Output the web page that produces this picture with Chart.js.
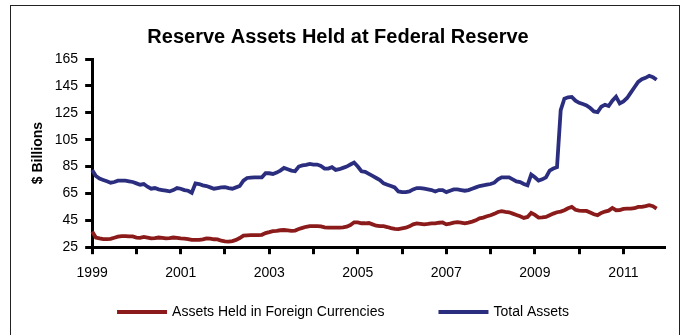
<!DOCTYPE html>
<html>
<head>
<meta charset="utf-8">
<script src="https://cdn.jsdelivr.net/npm/chart.js@4.4.1/dist/chart.umd.min.js"></script>
<style>
  html, body { margin: 0; padding: 0; background: #fff; }
  #frame { position: absolute; left: 10px; top: 5px; width: 670px; height: 340px; border: 1px solid #222; box-sizing: border-box; }
  #wrap { position: absolute; left: 0; top: 0; width: 685px; height: 335px; }
</style>
</head>
<body>
<div id="frame"></div>
<div id="wrap"><canvas id="c"></canvas></div>
<script>
// ---- data ----
const years = [1999, 2000, 2001, 2002, 2003, 2004, 2005, 2006, 2007, 2008, 2009, 2010, 2011];
const monthCodes = ['01','02','03','04','05','06','07','08','09','10','11','12'];
const categories = [];
years.forEach(y => monthCodes.forEach(m => categories.push(y + '-' + m)));

const foreignCurrencies = [
  36.6, 32.2, 31.5, 31.0, 31.0, 31.2, 32.0, 32.8, 33.3, 33.3, 33.0, 33.0,
  32.2, 32.0, 32.6, 32.2, 31.6, 31.8, 32.2, 32.0, 31.6, 31.8, 32.2, 32.0,
  31.6, 31.4, 31.0, 30.4, 30.4, 30.4, 30.8, 31.6, 31.4, 30.9, 30.8, 29.8,
  29.4, 29.2, 29.6, 30.4, 31.8, 33.6, 33.8, 34.0, 34.0, 34.0, 34.2, 35.5,
  36.2, 37.0, 37.2, 37.6, 37.8, 37.5, 37.2, 37.4, 38.5, 39.4, 40.2, 40.7,
  40.7, 40.7, 40.5, 39.8, 39.5, 39.5, 39.5, 39.6, 39.8, 40.3, 41.5, 43.5,
  43.5, 42.8, 42.8, 43.0, 42.0, 41.0, 40.7, 40.7, 40.0, 39.2, 38.6, 38.5,
  39.0, 39.5, 40.5, 42.0, 42.7, 42.4, 42.0, 42.3, 42.7, 42.7, 43.2, 43.4,
  42.0, 42.5, 43.2, 43.6, 43.3, 42.7, 43.3, 44.0, 45.0, 46.5, 47.0, 48.0,
  48.8, 49.8, 51.2, 51.8, 51.3, 51.0, 50.0, 49.0, 48.0, 46.8, 47.5, 50.5,
  49.0, 47.0, 47.2, 47.5, 48.8, 50.0, 51.0, 51.5, 52.5, 54.0, 55.0, 52.8,
  52.2, 52.0, 52.0, 50.8, 49.5, 48.8, 50.5, 51.5, 52.2, 54.2, 52.5, 52.6,
  53.5, 53.7, 53.7, 54.0, 55.0, 55.0, 55.5, 56.2, 55.5, 53.7
];

const totalAssets = [
  82.5, 78.0, 76.0, 75.0, 74.0, 73.0, 73.5, 74.5, 74.5, 74.5, 74.0, 73.5,
  72.5, 71.5, 72.0, 70.0, 68.5, 69.0, 68.0, 67.5, 67.0, 66.5, 67.5, 69.0,
  68.5, 67.5, 67.0, 65.5, 72.5, 72.0, 71.0, 70.5, 69.5, 68.5, 69.0, 69.5,
  69.7, 69.0, 68.5, 69.5, 70.5, 74.5, 76.5, 76.8, 77.0, 77.0, 77.0, 80.0,
  80.0, 79.5, 80.5, 82.0, 84.0, 83.0, 82.0, 81.5, 85.0, 85.8, 86.2, 87.0,
  86.5, 86.5, 85.5, 83.5, 83.5, 84.5, 82.5, 83.0, 84.0, 85.0, 86.5, 88.0,
  85.0, 81.5, 81.0, 79.5, 78.0, 76.5, 75.0, 72.5, 71.5, 70.5, 69.5, 66.5,
  66.0, 66.0, 66.5, 68.0, 69.0, 69.0, 68.5, 68.0, 67.5, 66.5, 67.5, 67.5,
  66.0, 67.0, 68.0, 68.0, 67.5, 67.0, 67.5, 68.5, 69.5, 70.5, 71.0, 71.5,
  72.0, 73.0, 75.5, 77.0, 77.0, 77.0, 75.5, 74.0, 73.4, 72.0, 71.0, 79.0,
  77.0, 74.5, 75.5, 77.0, 82.0, 83.5, 84.5, 127.0, 135.5, 136.5, 136.8, 134.0,
  132.4, 131.5, 130.5, 128.5, 126.0, 125.5, 129.5, 131.0, 130.0, 134.0, 137.0, 132.0,
  133.5, 136.0, 140.0, 144.0, 148.0, 150.0, 151.0, 152.5, 151.5, 149.5
];

const yTicks = { min: 25, max: 165, step: 20 };
const seriesNames = ['Assets Held in Foreign Currencies', 'Total Assets'];
const seriesColors = ['#8b1a1a', '#2b2e7e'];

// ---- chart ----
Chart.defaults.font.family = '"Liberation Sans", Arial, sans-serif';
Chart.defaults.color = '#000';

const lineLegend = {
  id: 'lineLegend',
  afterDraw(chart, args, o) {
    const ctx = chart.ctx;
    ctx.save();
    ctx.font = o.fontSize + 'px ' + Chart.defaults.font.family;
    ctx.textBaseline = 'middle';
    const items = chart.data.datasets.map(ds => ({
      text: ds.label, color: ds.borderColor,
      w: o.swatch + o.textGap + ctx.measureText(ds.label).width
    }));
    const total = items.reduce((s, it) => s + it.w, 0) + o.gap * (items.length - 1);
    let x = o.centerX - total / 2;
    items.forEach(it => {
      ctx.fillStyle = it.color;
      ctx.fillRect(x, o.y - o.thick / 2, o.swatch, o.thick);
      ctx.fillStyle = '#000';
      ctx.fillText(it.text, x + o.swatch + o.textGap, o.y);
      x += it.w + o.gap;
    });
    ctx.restore();
  }
};

new Chart(document.getElementById('c'), {
  type: 'line',
  data: {
    labels: categories,
    datasets: [
      { label: seriesNames[0], data: foreignCurrencies, borderColor: seriesColors[0], backgroundColor: seriesColors[0], borderWidth: 3.8, pointRadius: 0, tension: 0 },
      { label: seriesNames[1], data: totalAssets, borderColor: seriesColors[1], backgroundColor: seriesColors[1], borderWidth: 3.8, pointRadius: 0, tension: 0 }
    ]
  },
  options: {
    responsive: true,
    maintainAspectRatio: false,
    animation: false,
    layout: { padding: { left: 12, right: 21, top: 10, bottom: 43 } },
    plugins: {
      legend: { display: false },
      tooltip: { enabled: false },
      title: {
        display: true,
        text: 'Reserve Assets Held at Federal Reserve',
        font: { size: 20, weight: 'bold' },
        color: '#000',
        padding: { top: 15, bottom: 10 }
      },
      lineLegend: { centerX: 343, y: 312, swatch: 50, textGap: 5, gap: 54, thick: 4, fontSize: 14 }
    },
    scales: {
      x: {
        type: 'category',
        offset: false,
        border: { display: true, color: '#000', width: 3 },
        grid: {
          drawOnChartArea: false,
          drawTicks: true,
          tickLength: 7,
          lineWidth: 3,
          color: (c) => (c.index % 12 === 0 ? '#000' : 'rgba(0,0,0,0)')
        },
        ticks: {
          autoSkip: false,
          maxRotation: 0,
          minRotation: 0,
          padding: 10.5,
          font: { size: 14 },
          color: '#000',
          callback: function (val, index) {
            const lab = this.getLabelForValue(val);
            const y = parseInt(lab.slice(0, 4), 10);
            return (lab.slice(5) === '01' && (y - years[0]) % 2 === 0) ? String(y) : '';
          }
        }
      },
      y: {
        min: yTicks.min,
        max: yTicks.max,
        border: { display: true, color: '#000', width: 3 },
        grid: { drawOnChartArea: false, drawTicks: true, tickLength: 7, lineWidth: 3, color: '#000' },
        ticks: { stepSize: yTicks.step, padding: 7, font: { size: 14 }, color: '#000' },
        title: { display: true, text: '$ Billions', font: { size: 14, weight: 'bold' }, color: '#000', padding: { top: 17.5, bottom: 1.5 } }
      }
    }
  },
  plugins: [lineLegend]
});
</script>
</body>
</html>
